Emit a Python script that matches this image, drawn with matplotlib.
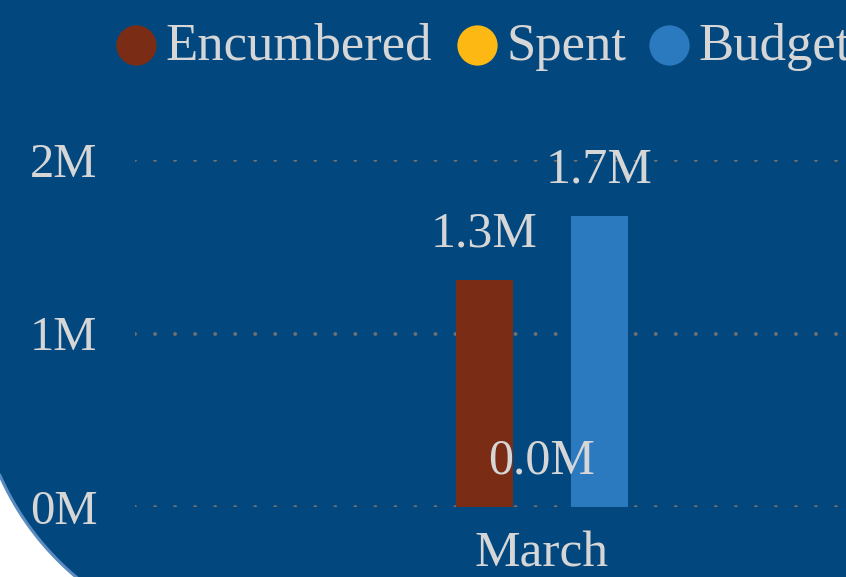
import numpy as np
import matplotlib.pyplot as plt
from matplotlib.patches import Polygon
from matplotlib.lines import Line2D

months = ['March']
series = ['Encumbered', 'Spent', 'Budget']
values = [1.31e6, 0.0, 1.68e6]
colors = ['#7a2c14', '#fdb813', '#2b79be']
yticks = [0, 1e6, 2e6]
ytick_labels = ['0M', '1M', '2M']

bg = '#02487f'
txt = '#d6d6d6'
plt.rcParams['font.family'] = ['Liberation Serif', 'DejaVu Serif']

W, H = 846, 577
fig = plt.figure(figsize=(W / 100, H / 100), dpi=100)
fig.patch.set_facecolor('white')

# blue card with a rounded bottom-left corner
cx, cy, R = 257, 362, 281
ys = np.linspace(475.6, 577, 60)
xs = cx - np.sqrt(R ** 2 - (ys - cy) ** 2)
pts = [(x / W, 1 - y / H) for x, y in zip(xs, ys)]
poly = pts + [(1, 0), (1, 1), (0, 1)]
fig.add_artist(Polygon(poly, closed=True, transform=fig.transFigure,
                       facecolor=bg, edgecolor='none', zorder=-10))
fig.add_artist(Line2D([p[0] for p in pts], [p[1] for p in pts],
                      transform=fig.transFigure, color='#5a8cbf', lw=2.2,
                      zorder=-9))

# axes area (pixels): x 135..846, y 160..507
left, right, top, bottom = 135, 846, 160, 507
ax = fig.add_axes([left / W, 1 - bottom / H, (right - left) / W, (bottom - top) / H])
ax.set_facecolor('none')
for s in ax.spines.values():
    s.set_visible(False)

bw = 1 / 3
x = np.arange(len(months))
for i, (name, val, c) in enumerate(zip(series, values, colors)):
    bars = ax.bar(x + (i - 1) * bw, [val], width=bw, color=c, zorder=3)
    ax.bar_label(bars, labels=[f'{val / 1e6:.1f}M'], padding=16,
                 color=txt, fontsize=36, zorder=4)

group_px = 172.5
ax.set_xlim(-(542 - left) / group_px, (right - 542) / group_px)
ax.set_ylim(0, 2e6)
ax.set_yticks(yticks)
ax.set_yticklabels(ytick_labels)
ax.set_xticks(x)
ax.set_xticklabels(months)
ax.tick_params(length=0, labelsize=35, labelcolor=txt)
ax.tick_params(axis='y', pad=27)
ax.tick_params(axis='x', pad=17, labelsize=37)
ax.grid(axis='y', color='#707070', lw=2.8, linestyle=(0, (0.01, 5.14)),
        dash_capstyle='round', zorder=1)
ax.grid(axis='x', visible=False)

# legend
mk_x = [136, 477, 669]
for name, c, mx in zip(series, colors, mk_x):
    fig.add_artist(Line2D([mx / W], [1 - 45 / H], marker='o', markersize=29,
                          markerfacecolor=c, markeredgecolor='none',
                          transform=fig.transFigure))
    fig.text((mx + 29) / W, 1 - 60 / H, name, color=txt, fontsize=38,
             va='baseline', ha='left')

fig.savefig('out.png', dpi=100, facecolor=fig.get_facecolor())
